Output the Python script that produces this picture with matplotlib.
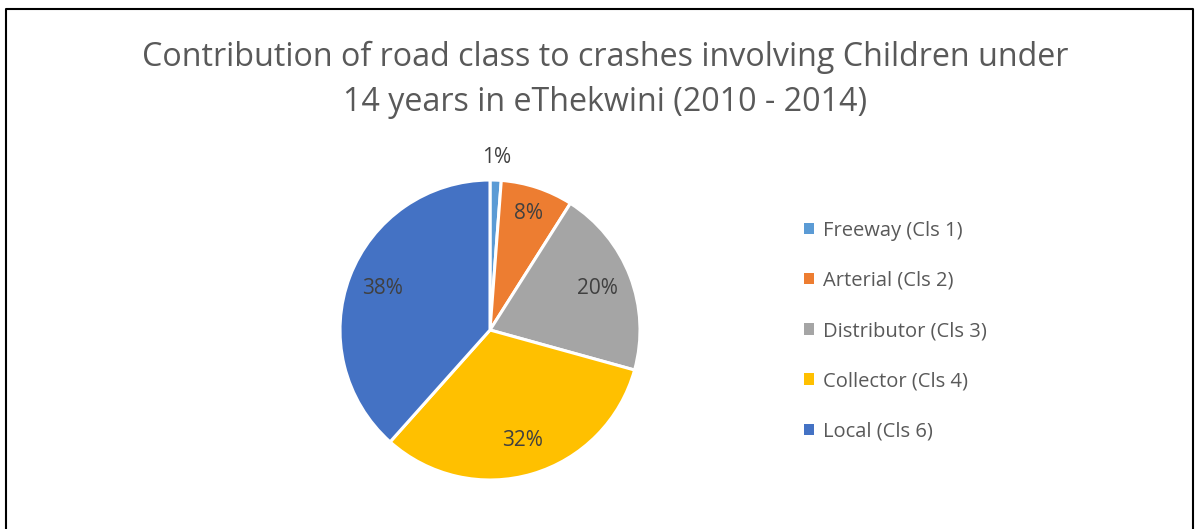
import matplotlib.pyplot as plt
import numpy as np
from matplotlib.lines import Line2D
from matplotlib.patches import Patch

# road class shares
classes = ["Freeway (Cls 1)", "Arterial (Cls 2)", "Distributor (Cls 3)",
           "Collector (Cls 4)", "Local (Cls 6)"]
shares = [1.2, 7.8, 20.3, 32.3, 38.4]
labels = ["1%", "8%", "20%", "32%", "38%"]
colors = ["#5B9BD5", "#ED7D31", "#A5A5A5", "#FFC000", "#4472C4"]

plt.rcParams["font.family"] = ["Open Sans", "DejaVu Sans"]

W, H = 1195, 529
fig = plt.figure(figsize=(W / 100, H / 100), dpi=100)

# pie axes: centre (490, 330), radius 150 px
ax = fig.add_axes([340 / W, (H - 480) / H, 300 / W, 300 / H])
wedges, _ = ax.pie(shares, colors=colors, startangle=90, counterclock=False,
                   wedgeprops=dict(edgecolor="white", linewidth=2.2))
ax.set_xlim(-1, 1)
ax.set_ylim(-1, 1)
ax.set_aspect("equal")

total = sum(shares)
cum = 0
for v, lab in zip(shares, labels):
    mid = (cum + v / 2) / total * 360
    cum += v
    r = 1.15 if v < 3 else (0.82 if v < 10 else 0.77)
    ang = np.deg2rad(90 - mid)
    ax.text(r * np.cos(ang), r * np.sin(ang), lab, ha="center", va="center",
            fontsize=15, color="#404040")

fig.text(605 / W, 1 - 57 / H, "Contribution of road class to crashes involving Children under",
         ha="center", va="center", fontsize=23.2, color="#595959")
fig.text(605 / W, 1 - 102 / H, "14 years in eThekwini (2010 - 2014)",
         ha="center", va="center", fontsize=23.2, color="#595959")

handles = [Patch(facecolor=c, edgecolor="none") for c in colors]
fig.legend(handles, classes, loc="center left", bbox_to_anchor=(794 / W, 1 - 331 / H),
           frameon=False, fontsize=14.5, labelcolor="#595959", handlelength=0.5,
           handleheight=0.5, handletextpad=0.45, labelspacing=1.5, borderpad=0)

# chart border (left, top, right)
fig.add_artist(Line2D([6 / W, 6 / W, 1193 / W, 1193 / W],
                      [0, 1 - 9 / H, 1 - 9 / H, 0], color="black", linewidth=1.5))

fig.savefig("out.png", dpi=100)
